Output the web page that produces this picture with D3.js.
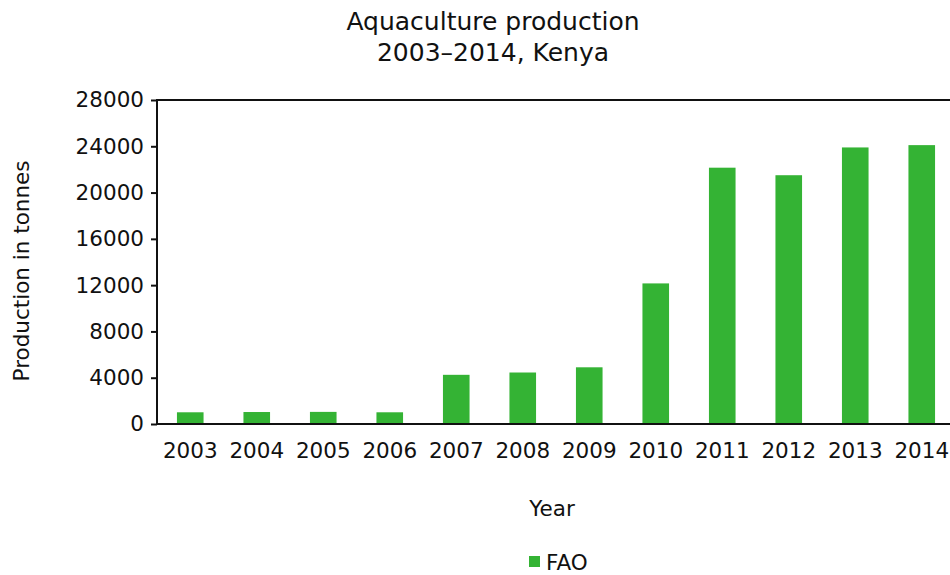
<!DOCTYPE html>
<html>
<head>
<meta charset="utf-8">
<script src="https://cdn.jsdelivr.net/npm/d3@7"></script>
<style>
  body { margin: 0; background: #fff; }
  text { font-family: "DejaVu Sans", Verdana, sans-serif; fill: #111; }
</style>
</head>
<body>
<script>
// data
var years = ["2003","2004","2005","2006","2007","2008","2009","2010","2011","2012","2013","2014"];
var fao = [1012, 1035, 1047, 1012, 4250, 4450, 4900, 12150, 22150, 21500, 23900, 24100];
var yTicks = [0, 4000, 8000, 12000, 16000, 20000, 24000, 28000];

var width = 950, height = 575;
var plotLeft = 157, plotRight = 955, plotTop = 100, plotBottom = 424;

var svg = d3.select("body").append("svg")
    .attr("width", width)
    .attr("height", height);

var x = d3.scaleBand()
    .domain(years)
    .range([plotLeft, plotRight])
    .paddingInner(0.6)
    .paddingOuter(0.3);

var y = d3.scaleLinear()
    .domain([0, 28000])
    .range([plotBottom, plotTop]);

//__bars__//
svg.append("g").selectAll("rect")
    .data(fao)
    .enter().append("rect")
    .attr("x", (d, i) => x(years[i]))
    .attr("y", d => y(d))
    .attr("width", x.bandwidth())
    .attr("height", d => y(0) - y(d))
    .attr("fill", "#34b334");

//__top border__//
svg.append("line")
    .attr("x1", plotLeft).attr("x2", width)
    .attr("y1", y(28000)).attr("y2", y(28000))
    .attr("stroke", "#111").attr("stroke-width", 2);

//__y axis__//
var yAxis = svg.append("g")
    .attr("transform", "translate(" + plotLeft + ",0)")
    .call(d3.axisLeft(y).tickValues(yTicks).tickSize(6).tickPadding(7).tickFormat(d3.format("d")));
yAxis.select(".domain").remove();
yAxis.selectAll(".tick line").attr("stroke", "#111").attr("stroke-width", 2);
yAxis.selectAll(".tick text").style("font-size", "21.5px").attr("fill", "#111");
yAxis.append("line")
    .attr("x1", 0).attr("x2", 0)
    .attr("y1", plotTop - 1).attr("y2", plotBottom + 1)
    .attr("stroke", "#111").attr("stroke-width", 2);

//__x axis__//
var xAxis = svg.append("g")
    .attr("transform", "translate(0," + plotBottom + ")")
    .call(d3.axisBottom(x).tickSize(0).tickPadding(19));
xAxis.select(".domain").remove();
xAxis.selectAll(".tick text").style("font-size", "21.5px").attr("fill", "#111");
xAxis.append("line")
    .attr("x1", plotLeft).attr("x2", width)
    .attr("y1", 0).attr("y2", 0)
    .attr("stroke", "#111").attr("stroke-width", 2);

//__titles__//
svg.append("text")
    .attr("x", 493).attr("y", 30)
    .attr("text-anchor", "middle")
    .style("font-size", "25px")
    .text("Aquaculture production");
svg.append("text")
    .attr("x", 493).attr("y", 61)
    .attr("text-anchor", "middle")
    .style("font-size", "25px")
    .text("2003\u20132014, Kenya");

svg.append("text")
    .attr("transform", "translate(29,271) rotate(-90)")
    .attr("text-anchor", "middle")
    .style("font-size", "21.5px")
    .text("Production in tonnes");

svg.append("text")
    .attr("x", 552).attr("y", 516)
    .attr("text-anchor", "middle")
    .style("font-size", "21.5px")
    .text("Year");

//__legend__//
var legend = svg.append("g").attr("transform", "translate(529,556)");
legend.append("rect")
    .attr("width", 11).attr("height", 11)
    .attr("fill", "#34b334");
legend.append("text")
    .attr("x", 17).attr("y", 14)
    .style("font-size", "21.5px")
    .text("FAO");
</script>
</body>
</html>
